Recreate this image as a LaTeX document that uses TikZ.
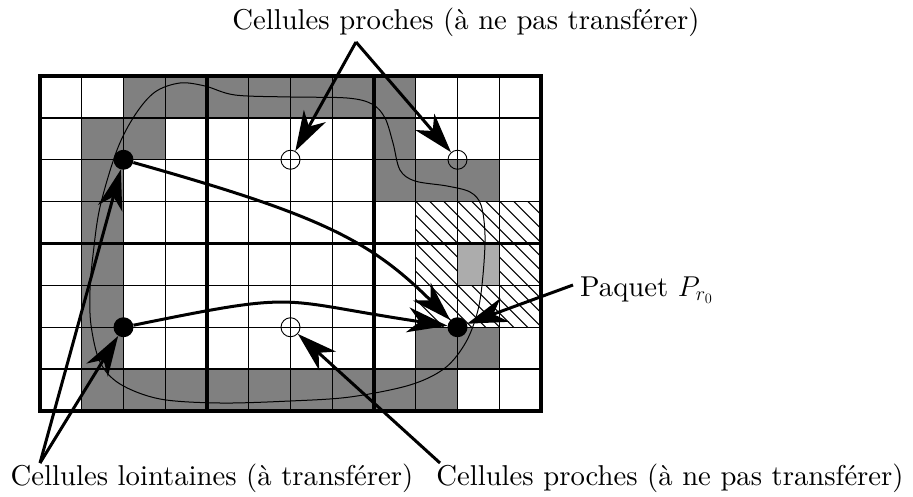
\RequirePackage{fix-cm}
\documentclass[tikz,border=0pt]{standalone}
\usepackage{fontspec}
\setmainfont{lmroman10-regular.otf}[ItalicFont=lmroman10-italic.otf,BoldFont=lmroman10-bold.otf]
\usetikzlibrary{arrows.meta}
\begin{document}
\begin{tikzpicture}[x=1pt,y=-1pt,
  lbl/.style={font=\fontsize{28.7}{34}\selectfont, inner sep=0pt},
  bigdot/.style={circle, fill=black, minimum size=20pt, inner sep=0pt},
  ring/.style={circle, draw=black, line width=0.9pt, minimum size=19pt, inner sep=0pt},
  thickarrow/.style={line width=3pt, -{Stealth[length=40pt,width=25pt,inset=12pt]}},
  darkcell/.style={fill=gray},
  lightcell/.style={fill=gray!65},
  gridthin/.style={line width=1.3pt},
  gridthick/.style={line width=3.5pt},
  hatchline/.style={line width=0.9pt},
  zone/.style={line width=1pt}
]
\useasboundingbox (0,0) rectangle (913,497);
% dark cells
\foreach \c/\r in {2/0,3/0,4/0,5/0,6/0,7/0,8/0,
                   1/1,2/1,8/1,
                   1/2,8/2,9/2,10/2,
                   1/3,1/4,1/5,
                   1/6,9/6,10/6,
                   1/7,2/7,3/7,4/7,5/7,6/7,7/7,8/7,9/7}
  \fill[darkcell] ({40+41.75*\c},{76+41.875*\r}) rectangle ++(41.75,41.875);
% hatched zone
\begin{scope}
  \clip (415.75,201.625) rectangle (541,327.25);
  \foreach \k in {290,304,...,546}
    \draw[hatchline] (\k,201.625) -- ++(130,130);
\end{scope}
\fill[lightcell] ({40+41.75*10},{76+41.875*4}) rectangle ++(41.75,41.875);
% grid
\foreach \c in {0,...,12}
  \draw[gridthin] ({40+41.75*\c},76) -- ({40+41.75*\c},411);
\foreach \r in {0,...,8}
  \draw[gridthin] (40,{76+41.875*\r}) -- (541,{76+41.875*\r});
\foreach \c in {4,8}
  \draw[gridthick] ({40+41.75*\c},76) -- ({40+41.75*\c},411);
\draw[gridthick] (40,243.5) -- (541,243.5);
\draw[line width=4pt] (40,76) rectangle (541,411);
% zone boundary
\draw[zone] plot[smooth cycle, tension=0.55] coordinates {
  (93,255) (100,207) (117,150) (135,115) (155,92) (180,83) (205,86) (235,95)
  (290,97) (347,98) (372,104) (385,118) (393,143) (400,170) (415,181) (447,186)
  (470,192) (481,205) (485,235) (483,275) (478,310) (466,342) (445,368) (410,385)
  (350,397) (290,401) (220,403) (160,399) (120,384) (100,362) (91,325) (90,290)};
% cells marked
\node[bigdot] (A) at (123.5,159.75) {};
\node[bigdot] (B) at (123.5,327.25) {};
\node[bigdot] (C) at (457.5,327.25) {};
\node[ring] (D) at (290.5,159.75) {};
\node[ring] (E) at (457.5,159.75) {};
\node[ring] (F) at (290.5,327.25) {};
% transfer arrows
\draw[thickarrow] (A) .. controls (320,215) and (370,240) .. (C);
\draw[thickarrow] (B) .. controls (306,290) and (274,300) .. (C);
% labels
\node[lbl] (top) at (466,22) {Cellules proches (à ne pas transférer)};
\node[lbl] (far) at (212,478) {Cellules lointaines (à transférer)};
\node[lbl] (near) at (670,478) {Cellules proches (à ne pas transférer)};
\node[lbl, anchor=west] (paq) at (580,290) {Paquet $P_{r_0}$};
\coordinate (tapex) at (356,42);
\coordinate (lapex) at (40,463);
\coordinate (rapex) at (440,463);
\coordinate (papex) at (573,285);
\draw[thickarrow] (tapex) -- (D);
\draw[thickarrow] (tapex) -- (E);
\draw[thickarrow] (lapex) -- (A);
\draw[thickarrow] (lapex) -- (B);
\draw[thickarrow] (rapex) -- (F);
\draw[thickarrow] (papex) -- (C);
\end{tikzpicture}
\end{document}
